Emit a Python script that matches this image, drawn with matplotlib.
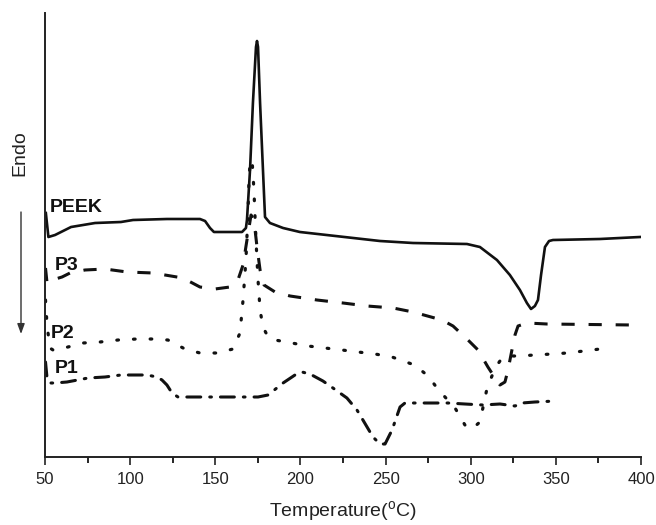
import matplotlib
matplotlib.use("Agg")
import matplotlib.pyplot as plt

plt.rcParams['font.family'] = ['Liberation Sans', 'DejaVu Sans']
plt.rcParams['mathtext.fontset'] = 'custom'
plt.rcParams['mathtext.rm'] = 'Liberation Sans'
plt.rcParams['lines.scale_dashes'] = False

# Temperatures (°C) and heat flow (arbitrary units, endo down)
peek_t = [50.5, 52.0, 55.9, 65.3, 79.4, 94.6, 101.7, 121.6, 141.0, 144.0, 146.9, 149.2,
          165.7, 168.0, 168.6, 170.4, 172.1, 173.9, 174.5, 175.1, 176.3, 178.0, 179.2,
          182.1, 189.8, 199.7, 246.7, 266.1, 297.8, 305.4, 315.4, 323.0, 328.9, 333.0,
          335.4, 337.7, 339.5, 341.3, 343.6, 346.0, 348.3, 375.9, 399.4]
peek_y = [244, 220, 222, 230, 234, 235, 237, 238, 238, 236, 229, 225,
          225, 229, 237, 287, 354, 410, 416, 410, 354, 287, 240,
          234, 229, 225, 216, 214, 213, 210, 197, 182, 167, 154,
          148, 151, 157, 182, 210, 216, 217, 218, 220]

p3_t = [50.3, 51.2, 52.3, 60.0, 64.7, 73.5, 85.2, 98.2, 113.4, 131.0, 141.0, 149.8,
        158.6, 163.3, 166.3, 168.6, 171.0, 172.7, 174.5, 176.3, 178.6, 185.1, 193.9,
        209.7, 225.0, 239.1, 254.4, 266.1, 283.1, 289.6, 298.4, 304.3, 310.1, 314.3,
        317.2, 320.1, 321.9, 324.2, 326.0, 327.8, 333.0, 344.8, 395.3, 400.0]
p3_y = [189, 174, 176, 180, 184, 187, 188, 185, 184, 179, 170, 168,
        170, 177, 192, 217, 242, 237, 210, 187, 172, 165, 161,
        157, 154, 151, 149, 145, 137, 131, 117, 107, 90, 79,
        72, 75, 87, 107, 122, 131, 134, 133, 132, 133]

p2_t = [50.3, 51.2, 52.9, 54.7, 63.5, 72.3, 82.3, 92.9, 104.0, 113.4, 122.2, 132.2,
        141.0, 151.0, 160.4, 164.5, 166.3, 168.0, 169.2, 169.8, 170.4, 171.6, 172.7,
        173.9, 175.1, 176.3, 178.0, 181.0, 185.1, 195.0, 204.4, 214.4, 224.4, 233.8,
        243.8, 253.8, 267.0, 275.0, 280.2, 284.9, 290.8, 296.6, 300.7, 305.4, 309.5,
        314.3, 318.4, 323.0, 327.8, 337.7, 347.7, 356.5, 366.5, 375.9]
p2_y = [157, 132, 109, 107, 110, 114, 115, 117, 118, 118, 117, 108,
        104, 104, 108, 124, 157, 197, 244, 277, 294, 297, 267,
        217, 177, 147, 130, 120, 117, 114, 111, 109, 107, 105,
        103, 100, 92, 81, 69, 60, 49, 32, 28, 35, 68,
        89, 99, 101, 101, 102, 103, 104, 106, 108]

p1_t = [50.3, 51.2, 52.9, 55.9, 62.9, 75.3, 85.2, 94.6, 109.9, 115.8, 118.7, 121.6,
        124.6, 128.1, 141.0, 175.1, 181.0, 189.8, 196.8, 200.9, 205.6, 213.2, 219.1,
        227.3, 233.2, 236.7, 242.6, 246.7, 249.7, 253.8, 258.5, 261.4, 277.3, 286.6,
        296.6, 307.2, 317.2, 326.0, 330.1, 337.7, 350.0]
p1_y = [95, 79, 74, 74, 75, 79, 80, 82, 82, 80, 77, 72,
        64, 60, 60, 60, 62, 74, 82, 85, 83, 76, 69,
        59, 47, 37, 20, 13, 13, 27, 50, 54, 54, 54,
        53, 52, 53, 51, 54, 55, 56]

labels = ['PEEK', 'P3', 'P2', 'P1']
label_t = [52.9, 55.9, 53.5, 55.9]
label_y = [245, 187, 119, 84]

x_ticks = [50, 100, 150, 200, 250, 300, 350, 400]
x_minor = [75, 125, 175, 225, 275, 325, 375]

fig = plt.figure(figsize=(6.56, 5.25), dpi=100)
ax = fig.add_axes([45/656, 1-457/525, (641-45)/656, (457-13)/525])

col = '#111111'
ax.plot(peek_t, peek_y, color=col, lw=1.9, solid_joinstyle='round')
ax.plot(p3_t, p3_y, color=col, lw=2.2, dashes=(9.5, 10), dash_capstyle='butt')
ax.plot(p2_t, p2_y, color=col, lw=2.3, dashes=(1.2, 10.8), dash_capstyle='round')
ax.plot(p1_t, p1_y, color=col, lw=2.2, dashes=(10, 6.5, 1.2, 6.5), dash_capstyle='round')

for lab, tx, ty in zip(labels, label_t, label_y):
    ax.text(tx, ty, lab, fontsize=14, fontweight='bold', ha='left', va='baseline', color=col)

ax.set_xlim(50, 400)
ax.set_ylim(0, 444)
ax.set_xticks(x_ticks)
ax.set_xticks(x_minor, minor=True)
ax.set_yticks([])
for s in ['top', 'right']:
    ax.spines[s].set_visible(False)
for s in ['left', 'bottom']:
    ax.spines[s].set_linewidth(1.4)
    ax.spines[s].set_color('#222222')
ax.tick_params(axis='x', which='major', direction='out', length=6, width=1.2, pad=5,
               labelsize=12, colors='#222222')
ax.tick_params(axis='x', which='minor', direction='out', length=4, width=1.2)
ax.set_xlabel('Temperature($^{\\rm o}$C)', fontsize=14, labelpad=9, color='#222222')

fig.text(20/656, 1-153.5/525, 'Endo', rotation=90, ha='center', va='center', fontsize=14, color='#222222')
fig.patches.append(matplotlib.patches.FancyArrowPatch(
    (21/656, 1-212/525), (21/656, 1-334/525), transform=fig.transFigure,
    arrowstyle='-|>,head_length=6,head_width=2.2', color='#333333', lw=1.0,
    shrinkA=0, shrinkB=0))

fig.savefig('out.png', dpi=100)
